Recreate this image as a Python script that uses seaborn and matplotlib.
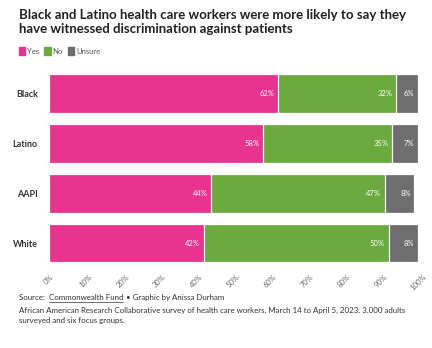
import matplotlib
matplotlib.use("Agg")
import matplotlib.pyplot as plt
import seaborn as sns
import pandas as pd
import numpy as np

groups = ["Black", "Latino", "AAPI", "White"]
yes = [62, 58, 44, 42]
no = [32, 35, 47, 50]
unsure = [6, 7, 8, 8]
series_names = ["Yes", "No", "Unsure"]
colors = ["#E8338F", "#6AAA3E", "#6E6E6E"]
xticks = [0, 10, 20, 30, 40, 50, 60, 70, 80, 90, 100]

sns.set_theme(style="white")
plt.rcParams['font.family'] = ['Lato', 'DejaVu Sans']

fig = plt.figure(figsize=(4.32, 3.48), dpi=100)
ax = fig.add_axes([0.113, 0.230, 0.855, 0.573])

df = pd.DataFrame({"group": groups, "Yes": yes, "No": no, "Unsure": unsure})
vals_list = [df[n].to_numpy() for n in series_names]
cums = np.cumsum(vals_list, axis=0)  # cumulative ends

# draw from the back (largest cumulative) to the front
for k in range(len(series_names) - 1, -1, -1):
    sns.barplot(x=cums[k], y=df["group"], color=colors[k], orient="h", ax=ax,
                width=0.78, edgecolor="white", linewidth=0.9, saturation=1)

for k in range(len(series_names)):
    for j in range(len(groups)):
        ax.text(cums[k][j] - 1.0, j, f"{vals_list[k][j]}%", ha="right", va="center",
                color="white", fontsize=5.5)

ax.set_ylim(3.5, -0.5)
ax.set_xlim(0, 100)
ax.set_yticks(range(len(groups)))
ax.set_yticklabels(groups, fontsize=6.5, fontweight="bold", color="#333333")
ax.set_xticks(xticks)
ax.set_xticklabels([f"{t}%" for t in xticks], rotation=45, fontsize=5.5, color="#666666",
                   ha="center")
ax.tick_params(axis="x", length=0, pad=4)
ax.tick_params(axis="y", length=0, pad=8)
for s in ax.spines.values():
    s.set_visible(False)
ax.set_ylabel("")
ax.set_xlabel("")

fig.text(0.044, 0.975, "Black and Latino health care workers were more likely to say they\nhave witnessed discrimination against patients",
         fontsize=9.5, fontweight="bold", color="#222222", va="top", linespacing=1.2)

# legend
renderer = fig.canvas.get_renderer()
W = fig.get_figwidth() * fig.dpi
lx = 19 / W
ly = 0.853
for name, col in zip(series_names, colors):
    fig.patches.append(plt.Rectangle((lx, ly - 0.011), 0.0145, 0.024, transform=fig.transFigure,
                                     color=col, figure=fig))
    t = fig.text(lx + 0.019, ly, name, fontsize=5.5, color="#555555", va="center")
    bb = t.get_window_extent(renderer)
    lx = bb.x1 / W + 0.012

fs = 5.7
x0 = 19 / W
t1 = fig.text(x0, 0.146, "Source: ", fontsize=fs, color="#333333", va="center")
bb = t1.get_window_extent(renderer)
x1 = bb.x1 / W + 0.004
t2 = fig.text(x1, 0.146, "Commonwealth Fund", fontsize=fs, color="#333333", va="center")
bb2 = t2.get_window_extent(renderer)
x2 = bb2.x1 / W
fig.add_artist(plt.Line2D([x1, x2], [0.132, 0.132], color="#333333", lw=0.5))
fig.text(x2 + 0.006, 0.146, "• Graphic by Anissa Durham", fontsize=fs, color="#333333", va="center")
fig.text(x0, 0.118, "African American Research Collaborative survey of health care workers, March 14 to April 5, 2023. 3,000 adults\nsurveyed and six focus groups.",
         fontsize=fs, color="#333333", va="top", linespacing=1.55)

fig.savefig("out.png", dpi=100)
